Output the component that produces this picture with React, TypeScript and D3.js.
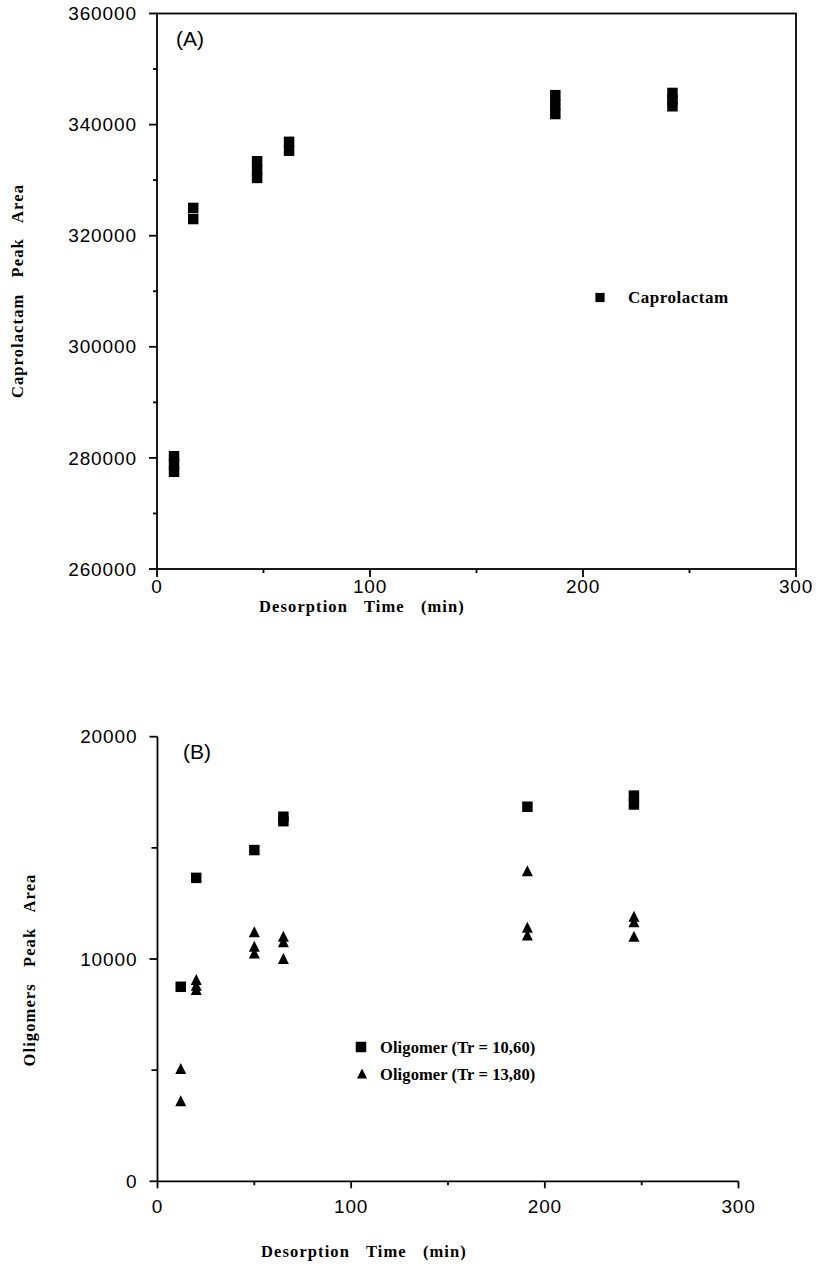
import React from "react";
import * as d3 from "d3";

// ---- Panel A data ----
const timesA = [8, 8, 8, 17, 17, 47, 47, 47, 62, 62, 187, 187, 187, 242, 242, 242];
const caprolactam = [280300, 278900, 277500, 325000, 323000, 333400, 331800, 330400, 336900, 335300, 345300, 343600, 341900, 345700, 344400, 343300];
const yTicksA = [260000, 280000, 300000, 320000, 340000, 360000];
const yMinorA = [270000, 290000, 310000, 330000, 350000];
const xTicks = [0, 100, 200, 300];
const xMinor = [50, 150, 250];

// ---- Panel B data ----
const timesSq = [12, 20, 50, 65, 65, 191, 246, 246];
const olig1060 = [8750, 13650, 14900, 16400, 16200, 16850, 17350, 16950];
const timesTri = [12, 12, 20, 20, 20, 50, 50, 50, 65, 65, 65, 191, 191, 191, 246, 246, 246];
const olig1380 = [5050, 3600, 9050, 8800, 8600, 11200, 10550, 10250, 11000, 10750, 10000, 13950, 11400, 11050, 11900, 11650, 11000];
const yTicksB = [0, 10000, 20000];
const yMinorB = [5000, 15000];

const SANS = "'Liberation Sans', Arial, Helvetica, sans-serif";
const SERIF = "'Liberation Serif', 'Times New Roman', serif";

const sq = d3.symbol(d3.symbolSquare, 110);

function tri(cx: number, cy: number, w = 11, h = 11) {
  const p = d3.path();
  p.moveTo(cx, cy - h * 0.55);
  p.lineTo(cx + w / 2, cy + h * 0.45);
  p.lineTo(cx - w / 2, cy + h * 0.45);
  p.closePath();
  return p.toString();
}

export default function App() {
  // Panel A scales
  const xA = d3.scaleLinear().domain([0, 300]).range([157, 796]);
  const yA = d3.scaleLinear().domain([260000, 360000]).range([569, 13.5]);
  // Panel B scales
  const xB = d3.scaleLinear().domain([0, 300]).range([157.5, 738.5]);
  const yB = d3.scaleLinear().domain([0, 20000]).range([1181.3, 736.7]);

  const stroke = "#000";
  const sw = 1.8;
  const titleProps = {
    fontFamily: SERIF,
    fontWeight: "bold" as const,
    fontSize: 16.5,
    letterSpacing: 1.1,
    wordSpacing: 11,
    textAnchor: "middle" as const,
  };

  return (
    <div style={{ position: "absolute", left: 0, top: 0 }}>
      <svg width={818} height={1265} style={{ display: "block", background: "#fff" }}>
        {/* ===== Panel A ===== */}
        <g>
          <rect x={xA(0)} y={yA(360000)} width={xA(300) - xA(0)} height={yA(260000) - yA(360000)} fill="none" stroke={stroke} strokeWidth={sw} />
          {yTicksA.map((t) => (
            <g key={"ya" + t}>
              <line x1={xA(0) - 8} x2={xA(0)} y1={yA(t)} y2={yA(t)} stroke={stroke} strokeWidth={sw} />
              <text x={xA(0) - 20} y={yA(t)} dy="0.35em" textAnchor="end" fontFamily={SANS} fontSize={19} letterSpacing={0.9}>
                {t}
              </text>
            </g>
          ))}
          {yMinorA.map((t) => (
            <line key={"yma" + t} x1={xA(0) - 4} x2={xA(0)} y1={yA(t)} y2={yA(t)} stroke={stroke} strokeWidth={sw} />
          ))}
          {xTicks.map((t) => (
            <g key={"xa" + t}>
              <line x1={xA(t)} x2={xA(t)} y1={yA(260000)} y2={yA(260000) + 8} stroke={stroke} strokeWidth={sw} />
              <text x={xA(t)} y={yA(260000) + 24} textAnchor="middle" fontFamily={SANS} fontSize={19} letterSpacing={0.8}>
                {t}
              </text>
            </g>
          ))}
          {xMinor.map((t) => (
            <line key={"xma" + t} x1={xA(t)} x2={xA(t)} y1={yA(260000)} y2={yA(260000) + 4} stroke={stroke} strokeWidth={sw} />
          ))}
          <text x={176} y={46} fontFamily={SANS} fontSize={21}>(A)</text>
          {timesA.map((t, i) => (
            <path key={"pa" + i} d={sq()!} transform={`translate(${xA(t)},${yA(caprolactam[i])})`} fill="#000" />
          ))}
          {/* legend A */}
          <path d={sq.size(85)()!} transform="translate(600,297.5)" fill="#000" />
          <text x={628} y={303} fontFamily={SERIF} fontWeight="bold" fontSize={17} letterSpacing={0.5}>Caprolactam</text>
          {/* axis titles A */}
          <text x={362} y={612} {...titleProps}>Desorption Time (min)</text>
          <text transform="translate(23,291) rotate(-90)" {...titleProps}>Caprolactam Peak Area</text>
        </g>

        {/* ===== Panel B ===== */}
        <g>
          <line x1={xB(0)} x2={xB(0)} y1={yB(20000)} y2={yB(0)} stroke={stroke} strokeWidth={sw} />
          <line x1={xB(0)} x2={xB(300)} y1={yB(0)} y2={yB(0)} stroke={stroke} strokeWidth={sw} />
          {yTicksB.map((t) => (
            <g key={"yb" + t}>
              <line x1={xB(0) - 8} x2={xB(0)} y1={yB(t)} y2={yB(t)} stroke={stroke} strokeWidth={sw} />
              <text x={xB(0) - 20} y={yB(t)} dy="0.35em" textAnchor="end" fontFamily={SANS} fontSize={19} letterSpacing={0.9}>
                {t}
              </text>
            </g>
          ))}
          {yMinorB.map((t) => (
            <line key={"ymb" + t} x1={xB(0) - 6} x2={xB(0)} y1={yB(t)} y2={yB(t)} stroke={stroke} strokeWidth={sw} />
          ))}
          {xTicks.map((t) => (
            <g key={"xb" + t}>
              <line x1={xB(t)} x2={xB(t)} y1={yB(0)} y2={yB(0) + 7} stroke={stroke} strokeWidth={sw} />
              <text x={xB(t)} y={yB(0) + 32} textAnchor="middle" fontFamily={SANS} fontSize={19} letterSpacing={0.8}>
                {t}
              </text>
            </g>
          ))}
          {xMinor.map((t) => (
            <line key={"xmb" + t} x1={xB(t)} x2={xB(t)} y1={yB(0)} y2={yB(0) + 4} stroke={stroke} strokeWidth={sw} />
          ))}
          <text x={183} y={759} fontFamily={SANS} fontSize={21}>(B)</text>
          {timesSq.map((t, i) => (
            <path key={"sq" + i} d={sq.size(110)()!} transform={`translate(${xB(t)},${yB(olig1060[i])})`} fill="#000" />
          ))}
          {timesTri.map((t, i) => (
            <path key={"tr" + i} d={tri(xB(t), yB(olig1380[i]))} fill="#000" />
          ))}
          {/* legend B */}
          <path d={sq.size(110)()!} transform="translate(361,1047)" fill="#000" />
          <text x={380} y={1053} fontFamily={SERIF} fontWeight="bold" fontSize={16.5} letterSpacing={0.1}>Oligomer (Tr = 10,60)</text>
          <path d={tri(362, 1074, 10, 10)} fill="#000" />
          <text x={380} y={1080} fontFamily={SERIF} fontWeight="bold" fontSize={16.5} letterSpacing={0.1}>Oligomer (Tr = 13,80)</text>
          {/* axis titles B */}
          <text x={364} y={1257} {...titleProps}>Desorption Time (min)</text>
          <text transform="translate(35,970) rotate(-90)" {...titleProps}>Oligomers Peak Area</text>
        </g>
      </svg>
    </div>
  );
}
